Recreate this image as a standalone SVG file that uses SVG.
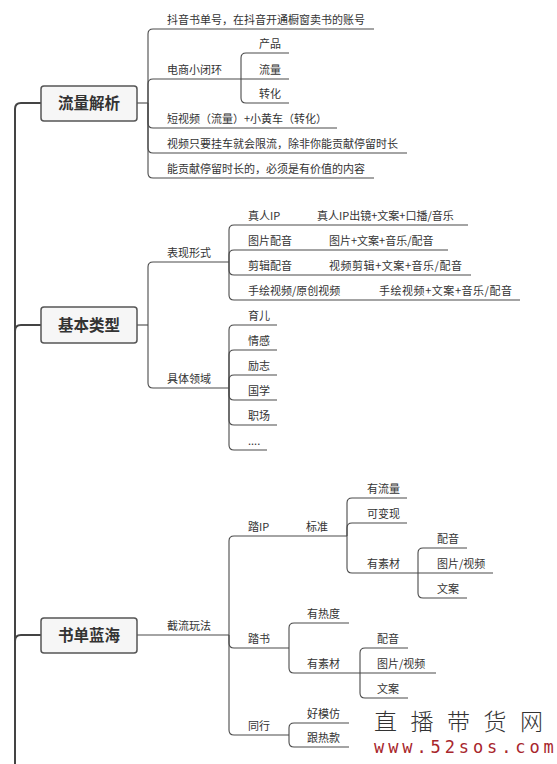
<svg xmlns="http://www.w3.org/2000/svg" width="557" height="764" viewBox="0 0 557 764">
<style>
.c{fill:none;stroke:#4a4a4a;stroke-width:1.1}
.tr{fill:none;stroke:#444;stroke-width:2}
.t{font-family:"Noto Sans CJK SC","Microsoft YaHei",sans-serif;font-size:11px;fill:#333}
.box{fill:#f6f6f6;stroke:#555;stroke-width:1.5}
.bt{font-family:"Noto Sans CJK SC",sans-serif;font-size:15.5px;font-weight:bold;fill:#333;text-anchor:middle}
</style>
<rect width="557" height="764" fill="#fff"/>
<g id="connectors">
<path class="tr" d="M15,764 V109 Q15,103 21,103 H41"/>
<path class="tr" d="M15,331 Q15,325 21,325 H41"/>
<path class="tr" d="M15,641 Q15,635 21,635 H41"/>
<path class="c" d="M137,103 H148"/>
<path class="c" d="M148,103 V34 Q148,29 153,29 H374"/>
<path class="c" d="M148,103 V84 Q148,79 153,79 H241"/>
<path class="c" d="M148,103 V123 Q148,128 153,128 H337"/>
<path class="c" d="M148,103 V148 Q148,153 153,153 H407"/>
<path class="c" d="M148,103 V173 Q148,178 153,178 H374"/>
<path class="c" d="M241,79 V58 Q241,53 246,53 H289"/>
<path class="c" d="M241,79 H289"/>
<path class="c" d="M241,79 V98 Q241,103 246,103 H289"/>
<path class="c" d="M137,325 H148"/>
<path class="c" d="M148,325 V267 Q148,262 153,262 H229"/>
<path class="c" d="M148,325 V383 Q148,388 153,388 H229"/>
<path class="c" d="M229,262 V230 Q229,225 234,225 H468"/>
<path class="c" d="M229,262 V255 Q229,250 234,250 H448"/>
<path class="c" d="M229,262 V270 Q229,275 234,275 H471"/>
<path class="c" d="M229,262 V295 Q229,300 234,300 H520"/>
<path class="c" d="M229,388 V330 Q229,325 234,325 H277"/>
<path class="c" d="M229,388 V355 Q229,350 234,350 H277"/>
<path class="c" d="M229,388 V380 Q229,375 234,375 H277"/>
<path class="c" d="M229,388 V395 Q229,400 234,400 H277"/>
<path class="c" d="M229,388 V420 Q229,425 234,425 H277"/>
<path class="c" d="M229,388 V445 Q229,450 234,450 H267"/>
<path class="c" d="M137,635 H229"/>
<path class="c" d="M229,635 V541 Q229,536 234,536 H347"/>
<path class="c" d="M229,635 V643 Q229,648 234,648 H289"/>
<path class="c" d="M229,635 V730 Q229,735 234,735 H289"/>
<path class="c" d="M347,536 V503 Q347,498 352,498 H407"/>
<path class="c" d="M347,536 V528 Q347,523 352,523 H407"/>
<path class="c" d="M347,536 V568 Q347,573 352,573 H418"/>
<path class="c" d="M418,573 V553 Q418,548 423,548 H467"/>
<path class="c" d="M418,573 H493"/>
<path class="c" d="M418,573 V593 Q418,598 423,598 H467"/>
<path class="c" d="M289,648 V628 Q289,623 294,623 H349"/>
<path class="c" d="M289,648 V668 Q289,673 294,673 H360"/>
<path class="c" d="M360,673 V653 Q360,648 365,648 H408"/>
<path class="c" d="M360,673 H436"/>
<path class="c" d="M360,673 V693 Q360,698 365,698 H408"/>
<path class="c" d="M289,735 V728 Q289,723 294,723 H349"/>
<path class="c" d="M289,735 V742 Q289,747 294,747 H349"/>
</g>
<g id="n-liuliang"><rect class="box" x="41" y="86" width="96" height="35" rx="3"/><text class="bt" x="89" y="109">流量解析</text></g>
<g id="n-l1"><text class="t" x="167" y="24">抖音书单号，在抖音开通橱窗卖书的账号</text></g>
<g id="n-l2"><text class="t" x="167" y="74">电商小闭环</text></g>
<g id="n-l2a"><text class="t" x="259" y="48">产品</text></g>
<g id="n-l2b"><text class="t" x="259" y="74">流量</text></g>
<g id="n-l2c"><text class="t" x="259" y="98">转化</text></g>
<g id="n-l3"><text class="t" x="167" y="123">短视频（流量）+小黄车（转化）</text></g>
<g id="n-l4"><text class="t" x="167" y="148">视频只要挂车就会限流，除非你能贡献停留时长</text></g>
<g id="n-l5"><text class="t" x="167" y="173">能贡献停留时长的，必须是有价值的内容</text></g>
<g id="n-jiben"><rect class="box" x="41" y="307" width="96" height="36" rx="3"/><text class="bt" x="89" y="331">基本类型</text></g>
<g id="n-b1"><text class="t" x="167" y="257">表现形式</text></g>
<g id="n-b1a"><text class="t" x="248" y="220">真人IP</text></g>
<g id="n-b1a1"><text class="t" x="317" y="220">真人IP出镜+文案+口播/音乐</text></g>
<g id="n-b1b"><text class="t" x="248" y="245">图片配音</text></g>
<g id="n-b1b1"><text class="t" x="329" y="245">图片+文案+音乐/配音</text></g>
<g id="n-b1c"><text class="t" x="248" y="270">剪辑配音</text></g>
<g id="n-b1c1"><text class="t" x="329" y="270" textLength="133">视频剪辑+文案+音乐/配音</text></g>
<g id="n-b1d"><text class="t" x="248" y="295">手绘视频/原创视频</text></g>
<g id="n-b1d1"><text class="t" x="379" y="295" textLength="133">手绘视频+文案+音乐/配音</text></g>
<g id="n-b2"><text class="t" x="167" y="383">具体领域</text></g>
<g id="n-b2a"><text class="t" x="248" y="320">育儿</text></g>
<g id="n-b2b"><text class="t" x="248" y="345">情感</text></g>
<g id="n-b2c"><text class="t" x="248" y="370">励志</text></g>
<g id="n-b2d"><text class="t" x="248" y="395">国学</text></g>
<g id="n-b2e"><text class="t" x="248" y="420">职场</text></g>
<g id="n-b2f"><text class="t" x="248" y="445">....</text></g>
<g id="n-shudan"><rect class="box" x="41" y="618" width="96" height="35" rx="3"/><text class="bt" x="89" y="641">书单蓝海</text></g>
<g id="n-s1"><text class="t" x="167" y="630">截流玩法</text></g>
<g id="n-s1a"><text class="t" x="248" y="531">踏IP</text></g>
<g id="n-s1a1"><text class="t" x="306" y="531">标准</text></g>
<g id="n-s1a1a"><text class="t" x="367" y="493">有流量</text></g>
<g id="n-s1a1b"><text class="t" x="367" y="518">可变现</text></g>
<g id="n-s1a1c"><text class="t" x="367" y="568">有素材</text></g>
<g id="n-s1a1c1"><text class="t" x="437" y="543">配音</text></g>
<g id="n-s1a1c2"><text class="t" x="437" y="568">图片/视频</text></g>
<g id="n-s1a1c3"><text class="t" x="437" y="593">文案</text></g>
<g id="n-s1b"><text class="t" x="248" y="643">踏书</text></g>
<g id="n-s1b1"><text class="t" x="307" y="618">有热度</text></g>
<g id="n-s1b2"><text class="t" x="307" y="668">有素材</text></g>
<g id="n-s1b2a"><text class="t" x="377" y="643">配音</text></g>
<g id="n-s1b2b"><text class="t" x="377" y="668">图片/视频</text></g>
<g id="n-s1b2c"><text class="t" x="377" y="693">文案</text></g>
<g id="n-s1c"><text class="t" x="248" y="730">同行</text></g>
<g id="n-s1c1"><text class="t" x="307" y="718">好模仿</text></g>
<g id="n-s1c2"><text class="t" x="307" y="742">跟热款</text></g>
<g id="logo">
<text x="374" y="730" font-family="Noto Sans CJK SC,sans-serif" font-size="23" font-weight="300" fill="#333" letter-spacing="13.5">直播带货网</text>
<text x="374" y="753" font-family="DejaVu Sans Mono,monospace" font-size="17" fill="#a8262c" letter-spacing="3.9">www.52sos.com</text>
</g>
</svg>
